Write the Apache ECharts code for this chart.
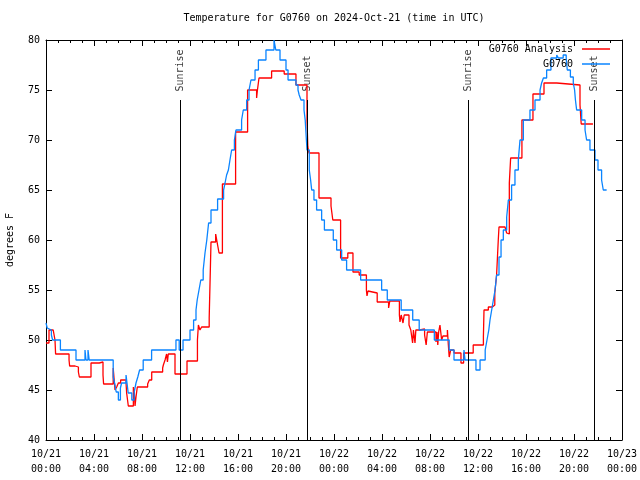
<!DOCTYPE html>
<html>
<head>
<meta charset="utf-8">
<script src="https://cdn.jsdelivr.net/npm/echarts@6/dist/echarts.min.js"></script>
<style>html,body{margin:0;padding:0;background:#fff}#c{width:640px;height:480px}</style>
</head>
<body>
<div id="c"></div>
<script>
// Hours since 2024-10-21 00:00 UTC
var xTickLabels = ['10/21\n00:00','10/21\n04:00','10/21\n08:00','10/21\n12:00','10/21\n16:00','10/21\n20:00','10/22\n00:00','10/22\n04:00','10/22\n08:00','10/22\n12:00','10/22\n16:00','10/22\n20:00','10/23\n00:00'];
var sunNames = ['Sunrise','Sunset','Sunrise','Sunset'];
var sunHours = [11.18, 21.77, 35.19, 45.69];

var obsHours = [0,0.1,0.25,0.45,0.55,1.2,2.5,3.25,3.33,3.5,3.6,5.6,5.75,5.85,6.03,6.2,6.3,6.67,6.75,6.85,7.15,7.35,7.5,7.65,7.8,8.1,8.8,10.83,11.1,11.42,12.0,12.3,12.5,12.6,12.75,12.9,13.1,13.25,13.4,13.55,13.75,14.3,14.8,14.92,15.05,15.2,15.33,15.47,15.7,15.83,16.3,16.44,16.72,16.92,17.08,17.42,17.7,18.33,19.0,19.15,19.5,20.0,20.17,20.83,21.0,21.1,21.25,21.5,21.6,21.7,21.75,21.94,22.05,22.14,22.33,22.55,22.97,23.2,23.94,24.22,24.64,25.05,26.22,27.97,28.44,29.6,30.56,31.1,32.36,33.6,34.0,34.83,34.92,35.83,36.17,36.6,36.75,36.9,37.0,37.14,37.28,37.42,37.55,37.75,37.92,38.11,38.39,38.53,38.8,39.08,39.36,39.5,39.78,40.33,40.75,41.17,41.3,41.45,41.72,42.08,42.56,42.7,43.1,43.35,43.44,43.7,43.94,44.05,44.12,44.22,44.64,44.92,45.05,45.33,45.75,46.0,46.3,46.44,46.72];
var obsTemps = [51.7,51.2,51.0,50.5,50.0,49.0,48.0,49.0,48.0,49.0,48.0,46.3,45.5,44.8,44.0,45.2,45.7,46.5,45.7,44.7,44.0,44.8,45.7,46.3,47.0,48.0,49.0,50.0,49.0,50.0,51.0,52.0,53.0,54.0,55.0,56.0,57.0,58.7,60.0,61.7,63.0,64.1,65.0,65.7,66.5,67.0,68.0,69.0,70.0,71.0,72.0,73.0,74.0,75.0,76.0,77.0,78.0,79.0,80.0,79.0,78.0,77.0,76.0,75.5,75.0,74.5,74.0,73.0,72.0,70.0,69.0,67.0,66.0,65.0,64.0,63.0,62.0,61.0,60.0,59.0,58.0,57.0,56.0,55.0,54.0,53.0,52.0,51.0,50.0,49.0,48.0,49.0,48.0,47.0,48.0,49.0,50.0,51.0,52.0,53.0,54.0,55.0,56.5,58.3,60.0,61.0,62.3,64.0,65.5,67.0,68.0,70.0,72.0,73.0,74.0,75.0,75.7,76.2,77.0,78.2,78.5,78.2,78.5,78.2,77.0,76.3,75.7,75.0,74.0,73.0,72.0,71.0,70.0,69.0,68.0,67.0,66.0,65.0,65.0];

var anaHours = [0,0.25,0.6,0.75,0.8,1.92,1.97,2.42,2.55,2.7,2.78,3.75,4.44,4.75,4.8,5.6,5.75,5.8,5.89,6.03,6.22,6.67,6.72,6.86,7.28,7.36,7.42,7.5,7.61,8.47,8.61,8.81,9.72,9.78,9.92,10.05,10.12,10.19,10.75,11.75,12.62,12.7,12.83,12.97,13.6,13.75,14.14,14.3,14.42,14.7,15.8,16.8,17.55,17.62,17.75,18.8,19.85,20.83,21.75,21.82,21.92,22.75,23.75,23.9,24.55,25.15,25.58,26.1,26.7,26.75,26.83,26.9,27.6,28.55,28.65,29.45,29.5,29.6,29.75,29.85,30.25,30.4,30.55,30.62,30.75,30.82,31.15,31.55,31.68,31.78,32.5,32.58,32.65,32.72,32.83,32.97,33.08,33.45,33.53,33.6,33.72,34.0,34.58,34.8,35.6,36.45,36.5,36.58,36.86,37.2,37.4,37.55,37.69,37.75,38.25,38.39,38.55,38.61,38.72,39.66,40.58,41.5,42.56,44.5,44.6,44.72,45.58];
var anaTemps = [49.7,51.0,50.8,50.0,48.6,48.0,47.4,47.5,47.3,46.8,46.3,47.7,47.8,46.5,45.6,47.2,45.0,45.0,45.3,45.7,46.0,45.7,44.7,43.4,45.3,44.7,43.4,44.3,45.3,45.6,46.0,46.8,47.2,47.5,48.0,48.6,47.8,48.6,46.6,47.9,50.0,51.5,51.0,51.3,52.2,59.8,60.6,59.5,58.7,65.6,70.8,75.0,74.2,75.0,76.2,76.9,76.6,75.5,72.0,69.3,68.7,64.2,63.4,62.0,58.2,58.7,56.8,56.5,55.0,54.4,54.9,54.7,53.8,53.2,53.9,52.5,51.8,52.5,51.7,52.5,51.5,51.0,49.7,51.0,49.7,51.0,51.1,50.5,49.5,50.8,49.8,50.8,49.5,50.8,51.5,50.0,50.4,51.0,49.5,48.3,49.0,48.7,47.7,48.7,49.5,50.3,53.0,53.0,53.3,53.5,54.7,56.5,60.0,61.3,61.5,60.7,60.6,65.7,68.2,72.0,74.6,75.7,75.5,73.5,71.6,71.6,71.6];

function pairs(xs, ys) { return xs.map(function (x, i) { return [x, ys[i]]; }); }

var FONT = 'DejaVu Sans Mono';
var BLUE = '#0a84ff', RED = '#ff0000';
var chart = echarts.init(document.getElementById('c'), null, {renderer: 'canvas'});
var axisBase = {
  axisLine: {show: true, onZero: false, lineStyle: {color: '#000', width: 1}},
  splitLine: {show: false}
};
chart.setOption({
  animation: false,
  backgroundColor: '#fff',
  textStyle: {fontFamily: FONT, fontSize: 10, color: '#000'},
  title: {
    text: 'Temperature for G0760 on 2024-Oct-21 (time in UTC)',
    left: 334, top: 13, padding: 0, textAlign: 'center',
    textStyle: {fontFamily: FONT, fontSize: 10, fontWeight: 'normal', color: '#000'}
  },
  legend: {
    orient: 'vertical', align: 'right', right: 30, top: 43, padding: 0,
    itemWidth: 28, itemHeight: 1.5, itemGap: 3,
    data: [
      {name: 'G0760 Analysis', icon: 'rect', itemStyle: {color: RED}},
      {name: 'G0760', icon: 'rect', itemStyle: {color: BLUE}}
    ],
    textStyle: {fontFamily: FONT, fontSize: 10, color: '#000', lineHeight: 12, padding: [0, 4, 0, 0]}
  },
  grid: {left: 46, right: 18, top: 40, bottom: 40, containLabel: false, outerBoundsMode: 'none'},
  xAxis: [
    Object.assign({}, axisBase, {
      type: 'value', position: 'bottom', min: 0, max: 48, interval: 4,
      axisTick: {show: true, inside: true, length: 6, lineStyle: {color: '#000'}},
      minorTick: {show: true, splitNumber: 4, length: 3, lineStyle: {color: '#000'}},
      axisLabel: {
        margin: 7, lineHeight: 15, fontFamily: FONT, fontSize: 10, color: '#000',
        formatter: function (v) { return xTickLabels[Math.round(v / 4)]; }
      }
    }),
    Object.assign({}, axisBase, {
      type: 'value', position: 'top', min: 0, max: 48, interval: 4,
      axisTick: {show: true, inside: true, length: 6, lineStyle: {color: '#000'}},
      minorTick: {show: true, splitNumber: 4, length: 3, lineStyle: {color: '#000'}},
      axisLabel: {show: false}
    })
  ],
  yAxis: [
    Object.assign({}, axisBase, {
      type: 'value', position: 'left', min: 40, max: 80, interval: 5,
      name: 'degrees F', nameLocation: 'middle', nameGap: 31, nameRotate: 90,
      nameTextStyle: {fontFamily: FONT, fontSize: 10, color: '#000'},
      axisTick: {show: true, inside: true, length: 6, lineStyle: {color: '#000'}},
      axisLabel: {margin: 6, fontFamily: FONT, fontSize: 10, color: '#000'}
    }),
    Object.assign({}, axisBase, {
      type: 'value', position: 'right', min: 40, max: 80, interval: 5,
      axisTick: {show: true, inside: true, length: 6, lineStyle: {color: '#000'}},
      axisLabel: {show: false}
    })
  ],
  series: [
    {
      name: 'sun', type: 'scatter', symbolSize: 1, silent: true, z: 1,
      itemStyle: {color: 'rgba(0,0,0,0)'},
      data: sunHours.map(function (t, i) { return {value: [t, 74], name: sunNames[i]}; }),
      label: {
        show: true, position: 'top', distance: 8, rotate: 90,
        align: 'left', verticalAlign: 'middle',
        fontFamily: FONT, fontSize: 10, color: '#000',
        formatter: function (p) { return p.name; }
      },
      labelLayout: {hideOverlap: false},
      markLine: {
        silent: true, symbol: 'none', animation: false,
        label: {show: false},
        lineStyle: {color: '#000', width: 1, type: 'solid'},
        data: sunHours.map(function (t) { return [{coord: [t, 74]}, {coord: [t, 40]}]; })
      }
    },
    {
      name: 'G0760 Analysis', type: 'line', step: 'end', symbol: 'none', z: 2,
      lineStyle: {color: RED, width: 1.3}, itemStyle: {color: RED},
      data: pairs(anaHours, anaTemps)
    },
    {
      name: 'G0760', type: 'line', step: 'end', symbol: 'none', z: 3,
      lineStyle: {color: BLUE, width: 1.3}, itemStyle: {color: BLUE},
      data: pairs(obsHours, obsTemps)
    }
  ]
});
</script>
</body>
</html>
